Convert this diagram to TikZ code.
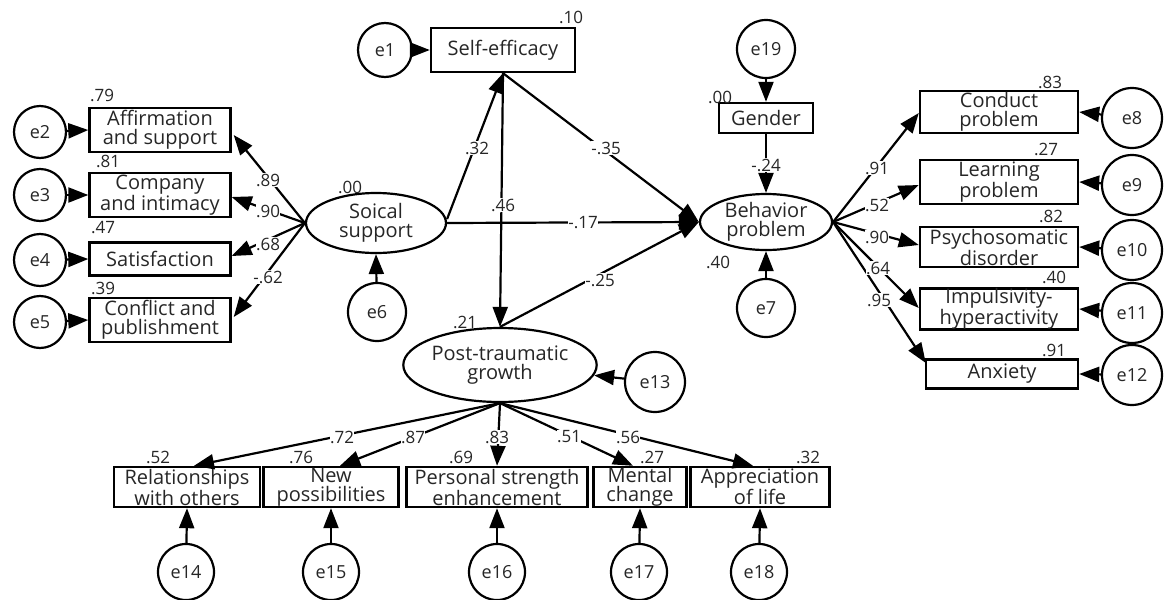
\documentclass[tikz,border=0pt]{standalone}
\usepackage{fontspec}
\setmainfont{Open Sans}
\usetikzlibrary{arrows.meta,shapes.geometric,calc}
\begin{document}
\begin{tikzpicture}[x=1pt,y=-1pt,
  base/.style={font=\fontsize{20}{19}\selectfont, text=black!85},
  obs/.style={base, draw, rectangle, line width=2.4pt, inner sep=0pt, align=center},
  lat/.style={base, draw, ellipse, line width=2.2pt, inner sep=0pt, align=center},
  err/.style={font=\fontsize{18}{19}\selectfont, text=black!85, draw, circle, line width=2.2pt, inner sep=0pt, minimum size=#1},
  err/.default=56pt,
  num/.style={font=\fontsize{17}{18}\selectfont, text=black!85, inner sep=0.5pt},
  lbl/.style={num, fill=white},
  arr/.style={line width=2.2pt, -{Triangle[length=20pt,width=15pt]}},
]
\useasboundingbox (0,0) rectangle (1171,600);

% ---------- Self-efficacy ----------
\node[obs, minimum width=144pt, minimum height=44pt] (SE) at (503,50) {Self-efficacy};
\node[err=54pt] (e1) at (385,50) {e1};
\node[num] (rSE) at (571,17) {.10};

% ---------- Social support and indicators ----------
\node[lat, minimum width=140pt, minimum height=60pt] (SS) at (376,223) {Soical\\support};
\node[num] (rSS) at (350,187) {.00};
\node[err=58pt] (e6) at (377,312) {e6};

\node[obs, minimum width=141pt, minimum height=44pt] (A1) at (160,130) {Affirmation\\and support};
\node[obs, minimum width=141pt, minimum height=44pt] (A2) at (160,195) {Company\\and intimacy};
\node[obs, minimum width=141pt, minimum height=33pt] (A3) at (160,259) {Satisfaction};
\node[obs, minimum width=141pt, minimum height=44pt] (A4) at (160,320) {Conflict and\\publishment};
\node[err=52pt] (e2) at (40,132) {e2};
\node[err=52pt] (e3) at (40,195) {e3};
\node[err=52pt] (e4) at (40,260) {e4};
\node[err=52pt] (e5) at (40,322) {e5};
\node[num] (rA1) at (102,95) {.79};
\node[num] (rA2) at (108,161) {.81};
\node[num] (rA3) at (103,228) {.47};
\node[num] (rA4) at (103,288) {.39};

% ---------- Behavior problem and indicators ----------
\node[lat, minimum width=132pt, minimum height=56pt] (BP) at (766,222) {Behavior\\problem};
\node[num] (rBP) at (718,262) {.40};
\node[obs, minimum width=94pt, minimum height=30pt] (G) at (766,118) {Gender};
\node[num] (rG) at (720,97) {.00};
\node[err=58pt] (e19) at (766,49) {e19};
\node[err=58pt] (e7) at (766,308) {e7};

\node[obs, minimum width=158pt, minimum height=42pt] (B1) at (999,112) {Conduct\\problem};
\node[obs, minimum width=158pt, minimum height=44pt] (B2) at (999,182) {Learning\\problem};
\node[obs, minimum width=158pt, minimum height=40pt] (B3) at (999,247) {Psychosomatic\\disorder};
\node[obs, minimum width=158pt, minimum height=41pt] (B4) at (999,309) {Impulsivity-\\hyperactivity};
\node[obs, minimum width=152pt, minimum height=29pt] (B5) at (1002,374) {Anxiety};
\node[err=60pt] (e8) at (1132,118) {e8};
\node[err=60pt] (e9) at (1132,185) {e9};
\node[err=60pt] (e10) at (1132,250) {e10};
\node[err=60pt] (e11) at (1132,313) {e11};
\node[err=60pt] (e12) at (1132,375) {e12};
\node[num] (rB1) at (1050,82) {.83};
\node[num] (rB2) at (1046,149) {.27};
\node[num] (rB3) at (1051,216) {.82};
\node[num] (rB4) at (1054,277) {.40};
\node[num] (rB5) at (1054,350) {.91};

% ---------- Post-traumatic growth and indicators ----------
\node[lat, minimum width=166pt, minimum height=74pt] (PTG) at (500,365) {Post-traumatic\\growth};
\node[num] (rPTG) at (465,322) {.21};
\node[err=60pt] (e13) at (655,382) {e13};

\node[obs, minimum width=146pt, minimum height=40pt] (C1) at (187,487) {Relationships\\with others};
\node[obs, minimum width=135pt, minimum height=40pt] (C2) at (331,487) {New\\possibilities};
\node[obs, minimum width=181pt, minimum height=40pt] (C3) at (497,487) {Personal strength\\enhancement};
\node[obs, minimum width=93pt, minimum height=40pt] (C4) at (640,487) {Mental\\change};
\node[obs, minimum width=139pt, minimum height=40pt] (C5) at (760,487) {Appreciation\\of life};
\node[err=56pt] (e14) at (186,572) {e14};
\node[err=56pt] (e15) at (331,572) {e15};
\node[err=56pt] (e16) at (497,572) {e16};
\node[err=56pt] (e17) at (639,572) {e17};
\node[err=56pt] (e18) at (759,572) {e18};
\node[num] (rC1) at (158,457) {.52};
\node[num] (rC2) at (301,457) {.76};
\node[num] (rC3) at (461,457) {.69};
\node[num] (rC4) at (652,457) {.27};
\node[num] (rC5) at (808,457) {.32};

% ---------- error arrows ----------
\draw[arr] (e1) -- (SE.west);
\draw[arr] (e2) -- (A1.west);
\draw[arr] (e3) -- (A2.west);
\draw[arr] (e4) -- (A3.west);
\draw[arr] (e5) -- (A4.west);
\draw[arr] (e6) -- (SS.south);
\draw[arr] (e19) -- (G.north);
\draw[arr] (e7) -- (BP.south);
\draw[arr] (e8) -- (B1.east);
\draw[arr] (e9) -- (B2.east);
\draw[arr] (e10) -- (B3.east);
\draw[arr] (e11) -- (B4.east);
\draw[arr] (e12) -- (B5.east);
\draw[arr] (e13) -- (PTG);
\draw[arr] (e14) -- (C1.south);
\draw[arr] (e15) -- (C2.south);
\draw[arr] (e16) -- (C3.south);
\draw[arr] (e17) -- (C4.south);
\draw[arr] (e18) -- (C5.south);

% ---------- loadings ----------
\draw[arr] (SS.west) -- ($(A1.east)+(2,5)$);
\draw[arr] (SS.west) -- ($(A2.east)+(0,2)$);
\draw[arr] (SS.west) -- ($(A3.east)+(0,-3)$);
\draw[arr] (SS.west) -- ($(A4.east)+(2,-3)$);

\draw[arr] (BP.east) -- ($(B1.west)+(0,1)$);
\draw[arr] (BP.east) -- ($(B2.west)+(0,3)$);
\draw[arr] (BP.east) -- ($(B3.west)+(0,-2)$);
\draw[arr] (BP.east) -- ($(B4.west)+(0,-1)$);
\draw[arr] (BP.east) -- ($(B5.west)+(1,-11)$);

\draw[arr] (PTG.south) -- ($(C1.north)+(7,0)$);
\draw[arr] (PTG.south) -- ($(C2.north)+(9,0)$);
\draw[arr] (PTG.south) -- (C3.north);
\draw[arr] (PTG.south) -- ($(C4.north)+(-7,0)$);
\draw[arr] (PTG.south) -- ($(C5.north)+(-7,0)$);

% ---------- structural paths ----------
\draw[arr] ($(SS.east)+(0,-4)$) -- (SE.south);
\draw[arr] (SE.south) -- (PTG.north);
\draw[arr] (SE.south) -- (BP.west);
\draw[arr] (SS.east) -- (BP.west);
\draw[arr] (PTG.north) -- (BP.west);
\draw[arr] (G.south) -- (BP.north);

% ---------- path labels ----------
\node[lbl] (l89) at (268,180) {.89};
\node[lbl] (l90) at (268,211) {.90};
\node[lbl] (l68) at (268,244) {.68};
\node[lbl] (l62) at (268,277) {-.62};
\node[lbl] (l32) at (477,148) {.32};
\node[lbl] (l46) at (503,205) {.46};
\node[lbl] (l35) at (606,148) {-.35};
\node[lbl] (l17) at (583,223) {-.17};
\node[lbl] (l25) at (600,280) {-.25};
\node[lbl] (l24) at (766,165) {-.24};
\node[lbl] (l91) at (877,168) {.91};
\node[lbl] (l52) at (877,205) {.52};
\node[lbl] (l90b) at (877,237) {.90};
\node[lbl] (l64) at (878,268) {.64};
\node[lbl] (l95) at (879,300) {.95};
\node[lbl] (l72) at (342,437) {.72};
\node[lbl] (l87) at (413,437) {.87};
\node[lbl] (l83) at (497,437) {.83};
\node[lbl] (l51) at (569,437) {.51};
\node[lbl] (l56) at (628,437) {.56};
\end{tikzpicture}
\end{document}
